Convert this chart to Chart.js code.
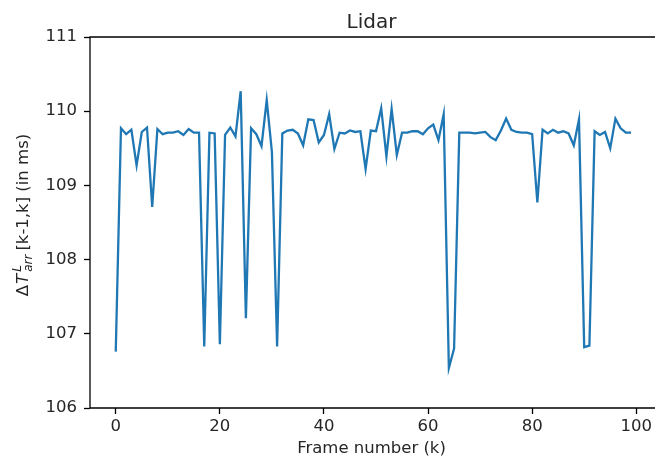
<!DOCTYPE html>
<html>
<head>
<meta charset="utf-8">
<title>Lidar</title>
<script src="https://cdn.jsdelivr.net/npm/chart.js@4/dist/chart.umd.min.js"></script>
<style>
  html, body { margin: 0; padding: 0; background: #fff; }
  #wrap { width: 655px; height: 463px; position: relative; }
</style>
</head>
<body>
<div id="wrap"><canvas id="lidar-chart" width="655" height="463"></canvas></div>
<script>
// Arrival interval between lidar frames (ms)
const frameNumbers = Array.from({ length: 100 }, (_, k) => k);
const arrivalDelta = [
  106.76, 109.77, 109.69, 109.75, 109.27, 109.72, 109.78, 108.71, 109.76, 109.69,
  109.71, 109.71, 109.73, 109.68, 109.76, 109.71, 109.71, 106.83, 109.71, 109.70,
  106.86, 109.68, 109.78, 109.66, 110.27, 107.21, 109.77, 109.69, 109.53, 110.15,
  109.45, 106.83, 109.70, 109.74, 109.75, 109.70, 109.54, 109.89, 109.88, 109.58,
  109.68, 109.96, 109.49, 109.71, 109.70, 109.74, 109.72, 109.73, 109.22, 109.74,
  109.73, 110.04, 109.39, 110.03, 109.41, 109.71, 109.71, 109.73, 109.73, 109.69,
  109.77, 109.82, 109.61, 109.96, 106.54, 106.80, 109.71, 109.71, 109.71, 109.70,
  109.71, 109.72, 109.65, 109.61, 109.74, 109.90, 109.75, 109.72, 109.71, 109.71,
  109.69, 108.77, 109.75, 109.70, 109.75, 109.71, 109.73, 109.70, 109.54, 109.89,
  106.82, 106.84, 109.73, 109.68, 109.72, 109.50, 109.90, 109.77, 109.71, 109.71
];
const xTicks = [0, 20, 40, 60, 80, 100];
const yTicks = [106, 107, 108, 109, 110, 111];

const FONT = '"DejaVu Sans", sans-serif';
const TEXT = '#262626';

// spines + title + axis labels (matplotlib look)
const decorations = {
  id: 'decorations',
  afterDraw(chart) {
    const { ctx, chartArea: a } = chart;
    ctx.save();
    ctx.strokeStyle = '#000';
    ctx.lineWidth = 1.3;
    ctx.beginPath();
    ctx.moveTo(a.left, a.bottom);
    ctx.lineTo(a.left, a.top);
    ctx.lineTo(a.right + 2, a.top);
    ctx.moveTo(a.left, a.bottom);
    ctx.lineTo(a.right + 2, a.bottom);
    ctx.stroke();

    const cx = (a.left + 563 / 2);
    ctx.fillStyle = TEXT;
    ctx.textAlign = 'center';
    ctx.textBaseline = 'alphabetic';
    ctx.font = '20px ' + FONT;
    ctx.fillText('Lidar', cx, 28);

    ctx.font = '16.5px ' + FONT;
    ctx.fillText('Frame number (k)', cx, 453);

    // y label: \Delta T^L_{arr}[k-1,k] (in ms), rotated
    const big = 16.5, small = 12;
    const parts = [
      { t: '\u0394', f: big + 'px ' + FONT, dy: 0, gap: 1 },
      { t: 'T', f: 'italic ' + big + 'px ' + FONT, dy: 0, gap: 2 },
      { stack: [
        { t: 'L', f: 'italic ' + small + 'px ' + FONT, dy: -7 },
        { t: 'arr', f: 'italic ' + small + 'px ' + FONT, dy: 4 }
      ], gap: 4 },
      { t: '[k-1,k] (in ms)', f: big + 'px ' + FONT, dy: 0, gap: 0 }
    ];
    let total = 0;
    parts.forEach(p => {
      if (p.stack) {
        p.w = Math.max(...p.stack.map(s => { ctx.font = s.f; return ctx.measureText(s.t).width; }));
      } else {
        ctx.font = p.f;
        p.w = ctx.measureText(p.t).width;
      }
      total += p.w + p.gap;
    });
    ctx.translate(28, 215);
    ctx.rotate(-Math.PI / 2);
    ctx.textAlign = 'left';
    let x = -total / 2;
    parts.forEach(p => {
      if (p.stack) {
        p.stack.forEach(s => { ctx.font = s.f; ctx.fillText(s.t, x, s.dy); });
      } else {
        ctx.font = p.f;
        ctx.fillText(p.t, x, p.dy);
      }
      x += p.w + p.gap;
    });
    ctx.restore();
  }
};

new Chart(document.getElementById('lidar-chart'), {
  type: 'line',
  data: {
    datasets: [{
      data: frameNumbers.map((k, i) => ({ x: k, y: arrivalDelta[i] })),
      borderColor: '#1f77b4',
      borderWidth: 2.3,
      pointRadius: 0,
      tension: 0,
      fill: false
    }]
  },
  options: {
    responsive: false,
    animation: false,
    devicePixelRatio: 1,
    layout: { padding: { top: 37, right: 0, bottom: 0, left: 0 } },
    plugins: {
      legend: { display: false },
      title: { display: false },
      tooltip: { enabled: false }
    },
    scales: {
      x: {
        type: 'linear',
        min: -4.95,
        max: 103.3,
        afterFit(scale) { scale.height = 55; },
        afterBuildTicks(scale) { scale.ticks = xTicks.map(v => ({ value: v })); },
        border: { display: false },
        grid: {
          drawOnChartArea: false,
          drawTicks: true,
          tickLength: 6,
          tickColor: '#000',
          tickWidth: 1.3
        },
        ticks: {
          color: TEXT,
          font: { family: FONT, size: 16.5 },
          padding: 3,
          maxRotation: 0
        }
      },
      y: {
        min: 106,
        max: 111,
        afterFit(scale) { scale.width = 90; },
        afterBuildTicks(scale) { scale.ticks = yTicks.map(v => ({ value: v })); },
        border: { display: false },
        grid: {
          drawOnChartArea: false,
          drawTicks: true,
          tickLength: 6,
          tickColor: '#000',
          tickWidth: 1.3
        },
        ticks: {
          color: TEXT,
          font: { family: FONT, size: 16.5 },
          padding: 7
        }
      }
    }
  },
  plugins: [decorations]
});
</script>
</body>
</html>
